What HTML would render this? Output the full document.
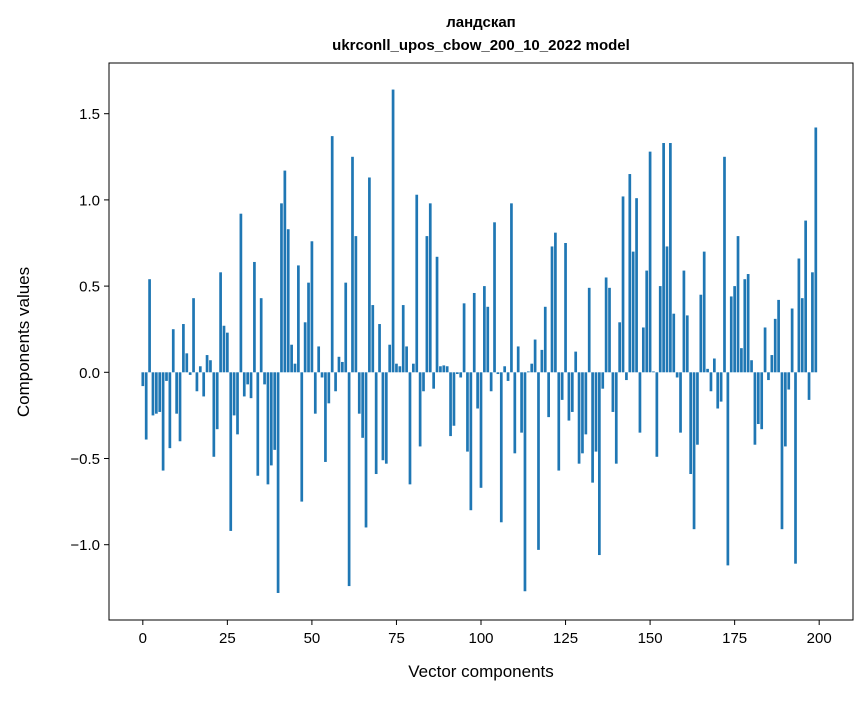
<!DOCTYPE html>
<html><head><meta charset="utf-8"><style>
body{margin:0;background:#fff;}
svg text{font-family:"Liberation Sans","DejaVu Sans",sans-serif;}
</style></head><body>
<svg id="chart" width="867" height="696" xmlns="http://www.w3.org/2000/svg">
<rect width="867" height="696" fill="#fff"/>
<text x="481" y="27" font-size="15" font-weight="bold" text-anchor="middle">ландскап</text>
<text x="481" y="50" font-size="15" font-weight="bold" text-anchor="middle">ukrconll_upos_cbow_200_10_2022 model</text>
<g id="bars"></g>
<g id="axes"></g>
<text transform="translate(29,342) rotate(-90)" font-size="17" text-anchor="middle">Components values</text>
<text x="481" y="677" font-size="17" text-anchor="middle">Vector components</text>
</svg>
<script>
const values = [
-0.08,-0.39,0.54,-0.25,-0.24,-0.23,-0.57,-0.05,-0.44,0.25,
-0.24,-0.40,0.28,0.11,-0.015,0.43,-0.11,0.035,-0.14,0.10,
0.07,-0.49,-0.33,0.58,0.27,0.23,-0.92,-0.25,-0.36,0.92,
-0.14,-0.07,-0.15,0.64,-0.60,0.43,-0.07,-0.65,-0.54,-0.45,
-1.28,0.98,1.17,0.83,0.16,0.05,0.62,-0.75,0.29,0.52,
0.76,-0.24,0.15,-0.03,-0.52,-0.18,1.37,-0.11,0.09,0.06,
0.52,-1.24,1.25,0.79,-0.24,-0.38,-0.90,1.13,0.39,-0.59,
0.28,-0.51,-0.53,0.16,1.64,0.05,0.035,0.39,0.15,-0.65,
0.05,1.03,-0.43,-0.11,0.79,0.98,-0.095,0.67,0.035,0.04,
0.035,-0.37,-0.31,-0.01,-0.03,0.40,-0.46,-0.80,0.46,-0.21,
-0.67,0.50,0.38,-0.11,0.87,-0.01,-0.87,0.035,-0.05,0.98,
-0.47,0.15,-0.35,-1.27,0.005,0.05,0.19,-1.03,0.13,0.38,
-0.26,0.73,0.81,-0.57,-0.16,0.75,-0.28,-0.23,0.12,-0.53,
-0.47,-0.36,0.49,-0.64,-0.46,-1.06,-0.095,0.55,0.49,-0.23,
-0.53,0.29,1.02,-0.045,1.15,0.70,1.01,-0.35,0.26,0.59,
1.28,0.005,-0.49,0.50,1.33,0.73,1.33,0.34,-0.03,-0.35,
0.59,0.33,-0.59,-0.91,-0.42,0.45,0.70,0.02,-0.11,0.08,
-0.21,-0.17,1.25,-1.12,0.44,0.50,0.79,0.14,0.54,0.57,
0.07,-0.42,-0.30,-0.33,0.26,-0.045,0.10,0.31,0.42,-0.91,
-0.43,-0.10,0.37,-1.11,0.66,0.43,0.88,-0.16,0.58,1.42];
const xTicks = [0,25,50,75,100,125,150,175,200];
const yTicks = [-1.0,-0.5,0.0,0.5,1.0,1.5];
const yTickLabels = ["\u22121.0","\u22120.5","0.0","0.5","1.0","1.5"];

const L=109,R=853,T=63,B=620;
const xMin=-10,xMax=210;
function xs(v){return L+(v-xMin)*(R-L)/(xMax-xMin);}
function ys(v){return 372.3-v*172.4;}
const NS="http://www.w3.org/2000/svg";
const bars=document.getElementById('bars');
const bw=0.8*(R-L)/(xMax-xMin);
values.forEach((v,i)=>{
  const r=document.createElementNS(NS,'rect');
  const y0=ys(0),y1=ys(v);
  r.setAttribute('x',xs(i)-bw/2);
  r.setAttribute('y',Math.min(y0,y1));
  r.setAttribute('width',bw);
  r.setAttribute('height',Math.abs(y1-y0));
  r.setAttribute('fill','#1f77b4');
  
  
  bars.appendChild(r);
});
const axes=document.getElementById('axes');
const frame=document.createElementNS(NS,'rect');
frame.setAttribute('x',L);frame.setAttribute('y',T);
frame.setAttribute('width',R-L);frame.setAttribute('height',B-T);
frame.setAttribute('fill','none');frame.setAttribute('stroke','#000');frame.setAttribute('stroke-width','1');


axes.appendChild(frame);
xTicks.forEach(t=>{
  const x=xs(t);
  const l=document.createElementNS(NS,'line');
  l.setAttribute('x1',x);l.setAttribute('x2',x);l.setAttribute('y1',B);l.setAttribute('y2',B+5);
  l.setAttribute('stroke','#000');
  
  
  axes.appendChild(l);
  const tx=document.createElementNS(NS,'text');
  tx.setAttribute('x',x);tx.setAttribute('y',B+23);tx.setAttribute('font-size','15');tx.setAttribute('text-anchor','middle');
  tx.textContent=t;
  
  
  axes.appendChild(tx);
});
yTicks.forEach((t,i)=>{
  const y=ys(t);
  const l=document.createElementNS(NS,'line');
  l.setAttribute('x1',L-5);l.setAttribute('x2',L);l.setAttribute('y1',y);l.setAttribute('y2',y);
  l.setAttribute('stroke','#000');
  
  
  axes.appendChild(l);
  const tx=document.createElementNS(NS,'text');
  tx.setAttribute('x',L-9);tx.setAttribute('y',y+5.5);tx.setAttribute('font-size','15');tx.setAttribute('text-anchor','end');
  tx.textContent=yTickLabels[i];
  
  
  axes.appendChild(tx);
});
</script>
</body></html>
